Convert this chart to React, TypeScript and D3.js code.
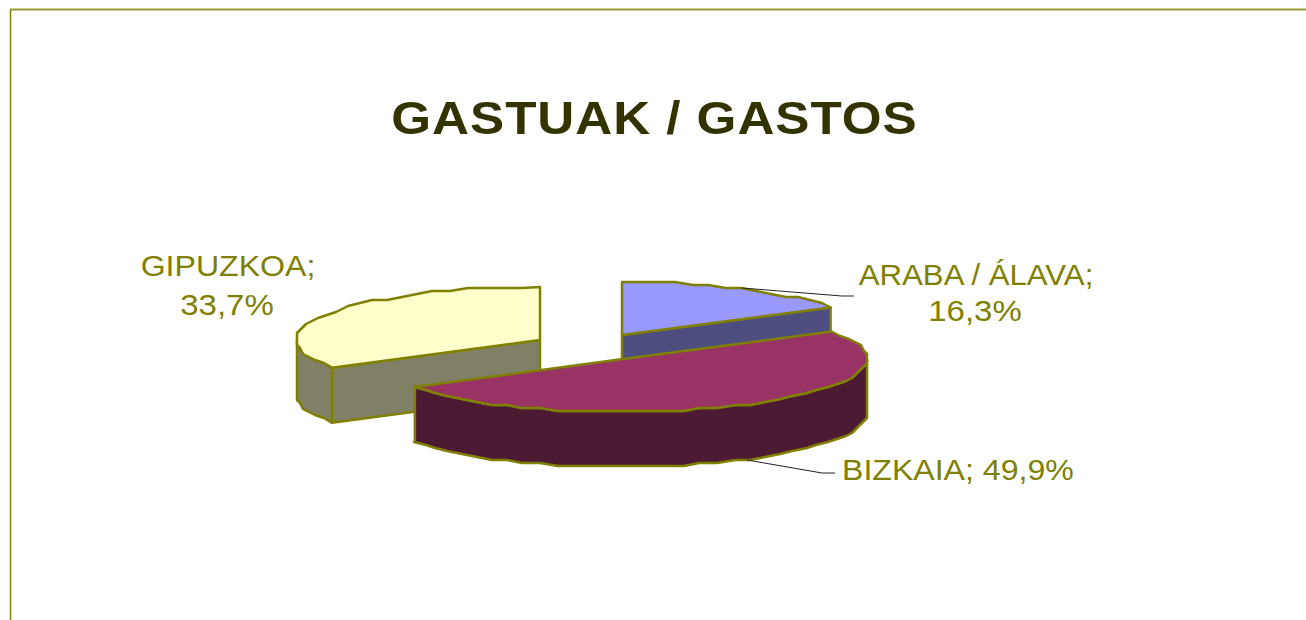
import * as d3 from 'd3';

const categories = ['ARABA / ÁLAVA', 'BIZKAIA', 'GIPUZKOA'];
const shares = [16.3, 49.9, 33.7];
const shareLabels = ['16,3%', '49,9%', '33,7%'];
const topColors = ['#9999ff', '#993366', '#ffffcc'];
const sideColors = ['#4d4d80', '#4d1a33', '#808066'];

const width = 1306;
const height = 620;
const rx = 244;
const ry = 53;
const depth = 55;
const edge = '#808000';
const fontFamily = '"Liberation Sans", Arial, sans-serif';

type Pt = [number, number];

// exploded 3D slices, centre of each top face
const centers: Pt[] = [[622, 335], [623, 359], [540, 340]];
const drawOrder = [2, 0, 1];

const pie = d3.pie<number>().sort(null).value(d => d);
const slices = pie(shares);

const pt = (c: Pt, a: number, dy = 0): Pt => [
  c[0] + rx * Math.sin(a),
  c[1] - ry * Math.cos(a) + dy,
];

// the original rim is a low-res polyline: snap the inner points to a small grid
const grid = 3;
const snap = (v: number) => Math.round(v / grid) * grid;
const line = d3.line();

function Slice({ i }: { i: number }) {
  const { startAngle: a0, endAngle: a1 } = slices[i];
  const c = centers[i];
  const n = Math.round((a1 - a0) / 0.075);
  const angles = d3.range(n + 1).map(k => a0 + ((a1 - a0) * k) / n);
  const at = (a: number, dy = 0): Pt => {
    if (a === a0 || a === a1) return pt(c, a, dy);
    const p = pt(c, a);
    return [snap(p[0]), snap(p[1]) + dy];
  };

  const from = Math.max(a0, Math.PI / 2);
  const to = Math.min(a1, (3 * Math.PI) / 2);
  const wallAngles = [from, ...angles.filter(a => a > from && a < to), to];
  const wall = [...wallAngles.map(a => at(a)), ...wallAngles.slice().reverse().map(a => at(a, depth))];
  const top: Pt[] = [c, ...angles.map(a => at(a))];

  // only the cut face turned toward the viewer is seen
  const cutAngle = i === 0 ? a1 : a0;
  const cut: Pt[] = [c, pt(c, cutAngle), pt(c, cutAngle, depth), [c[0], c[1] + depth]];
  return (
    <g stroke={edge} strokeWidth={2.5} strokeLinejoin="round">
      {i !== 1 && <path d={line(cut) + 'Z'} fill={sideColors[i]} />}
      {to > from && <path d={line(wall) + 'Z'} fill={sideColors[i]} />}
      <path d={line(top) + 'Z'} fill={topColors[i]} />
    </g>
  );
}

// glyphs in the reference are stretched sideways
function Label({ x, y, sx, anchor = 'middle', children }: any) {
  return (
    <text transform={`translate(${x},${y}) scale(${sx},1)`} textAnchor={anchor}>
      {children}
    </text>
  );
}

export default function App() {
  return (
    <svg width={width} height={height} style={{ position: 'absolute', left: 0, top: 0 }}>
      <rect width={width} height={height} fill="#fff" />
      <path d={`M10.5,${height}V9`} fill="none" stroke={edge} strokeWidth={1.5} />
      <path d={`M10,9.5H${width}`} fill="none" stroke="#99992e" strokeWidth={2} />
      <g fontFamily={fontFamily} fontWeight="bold" fontSize={47} fill="#333300">
        <text
          transform="translate(654,134) scale(1.09,1)"
          textAnchor="middle"
          textLength={482}
          lengthAdjust="spacing"
        >
          GASTUAK / GASTOS
        </text>
      </g>
      {drawOrder.map(i => <Slice key={i} i={i} />)}
      <path d="M742,288L842,296H854" fill="none" stroke="#222" strokeWidth={1} />
      <path d="M747,460L822,473H835" fill="none" stroke="#222" strokeWidth={1} />
      <g fontFamily={fontFamily} fontSize={30} fill={edge}>
        <Label x={228} y={276} sx={1.07}>{categories[2]};</Label>
        <Label x={227} y={315} sx={1.1}>{shareLabels[2]}</Label>
        <Label x={976} y={285} sx={1.04}>{categories[0]};</Label>
        <Label x={975} y={321} sx={1.1}>{shareLabels[0]}</Label>
        <Label x={842} y={480} sx={1.07} anchor="start">{categories[1]}; {shareLabels[1]}</Label>
      </g>
    </svg>
  );
}
